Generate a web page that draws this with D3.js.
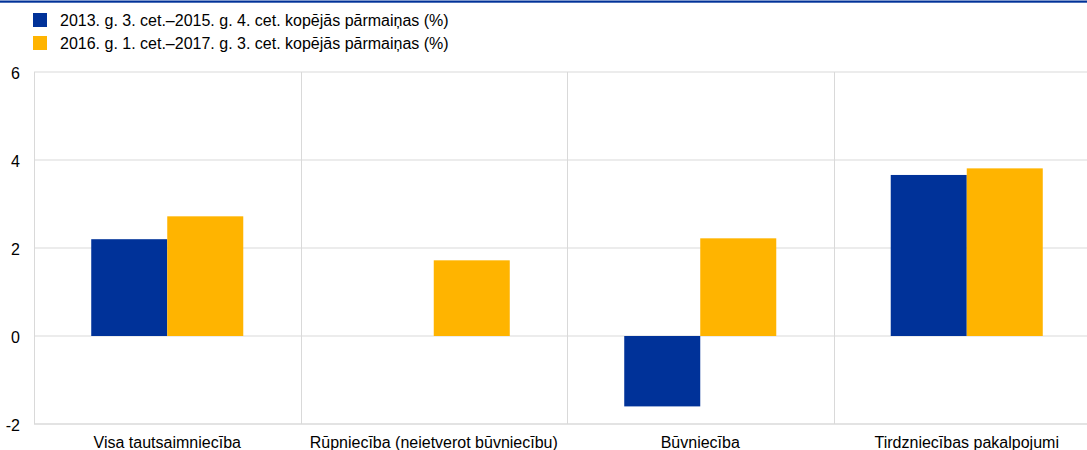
<!DOCTYPE html>
<html>
<head>
<meta charset="utf-8">
<script src="https://cdn.jsdelivr.net/npm/d3@7"></script>
<style>
  html, body { margin: 0; padding: 0; background: #fff; }
  svg { display: block; font-family: Arial, "Liberation Sans", sans-serif; }
</style>
</head>
<body>
<svg id="chart" width="1087" height="450"></svg>
<script>
const categories = ["Visa tautsaimniecība", "Rūpniecība (neietverot būvniecību)", "Būvniecība", "Tirdzniecības pakalpojumi"];
const seriesNames = ["2013. g. 3. cet.–2015. g. 4. cet. kopējās pārmaiņas (%)", "2016. g. 1. cet.–2017. g. 3. cet. kopējās pārmaiņas (%)"];
const series1 = [2.2, 0, -1.6, 3.66];
const series2 = [2.72, 1.72, 2.22, 3.81];
const yTicks = [-2, 0, 2, 4, 6];
const colors = ["#003299", "#FFB400"];

(function () {
const svg = d3.select("#chart");
const W = 1087;
const mLeft = 34, mRight = 1100, mTop = 72, mBottom = 424;
const fs = 16;

// top rule
svg.append("rect").attr("x", 0).attr("y", 0.5).attr("width", W).attr("height", 2.2).attr("fill", "#003299");

const y = d3.scaleLinear().domain([-2, 6]).range([mBottom, mTop]);
const x0 = d3.scaleBand().domain(categories).range([mLeft, mRight]).padding(0);
const x1 = d3.scaleBand().domain([0, 1]).range([0, x0.bandwidth()]).paddingInner(0).paddingOuter(0.753);

// horizontal gridlines
svg.append("g").selectAll("line").data(yTicks).join("line")
  .attr("x1", mLeft).attr("x2", W)
  .attr("y1", d => y(d)).attr("y2", d => y(d))
  .attr("stroke", d => d === -2 ? "#e3e3e3" : "#d9d9d9")
  .attr("stroke-width", d => d === -2 ? 2 : 1);

// vertical gridlines at category boundaries
svg.append("g").selectAll("line").data(categories).join("line")
  .attr("x1", d => Math.round(x0(d)) + 0.5).attr("x2", d => Math.round(x0(d)) + 0.5)
  .attr("y1", mTop).attr("y2", mBottom)
  .attr("stroke", "#d9d9d9").attr("stroke-width", 1);

// bars
const data = categories.map((c, i) => ({ c, vals: [series1[i], series2[i]] }));
const g = svg.append("g");
data.forEach(d => {
  d.vals.forEach((v, si) => {
    if (v === 0) return;
    g.append("rect")
      .attr("x", x0(d.c) + x1(si))
      .attr("width", x1.bandwidth())
      .attr("y", y(Math.max(0, v)))
      .attr("height", Math.abs(y(v) - y(0)))
      .attr("fill", colors[si]);
  });
});

// y tick labels
svg.append("g").selectAll("text").data(yTicks).join("text")
  .attr("x", 20).attr("y", d => y(d) + 1).attr("dy", "0.35em")
  .attr("text-anchor", "end").attr("font-size", fs).attr("fill", "#000")
  .text(d => d);

// x labels
svg.append("g").selectAll("text").data(categories).join("text")
  .attr("x", d => x0(d) + x0.bandwidth() / 2).attr("y", 448)
  .attr("text-anchor", "middle").attr("font-size", fs).attr("fill", "#000")
  .text(d => d);

// legend
const lg = svg.append("g");
seriesNames.forEach((n, i) => {
  lg.append("rect").attr("x", 33).attr("y", 13 + i * 23).attr("width", 14).attr("height", 14).attr("fill", colors[i]);
  lg.append("text").attr("x", 60).attr("y", 20 + i * 23).attr("dy", "0.35em")
    .attr("font-size", fs).attr("fill", "#000").text(n);
});
})();
</script>
</body>
</html>
